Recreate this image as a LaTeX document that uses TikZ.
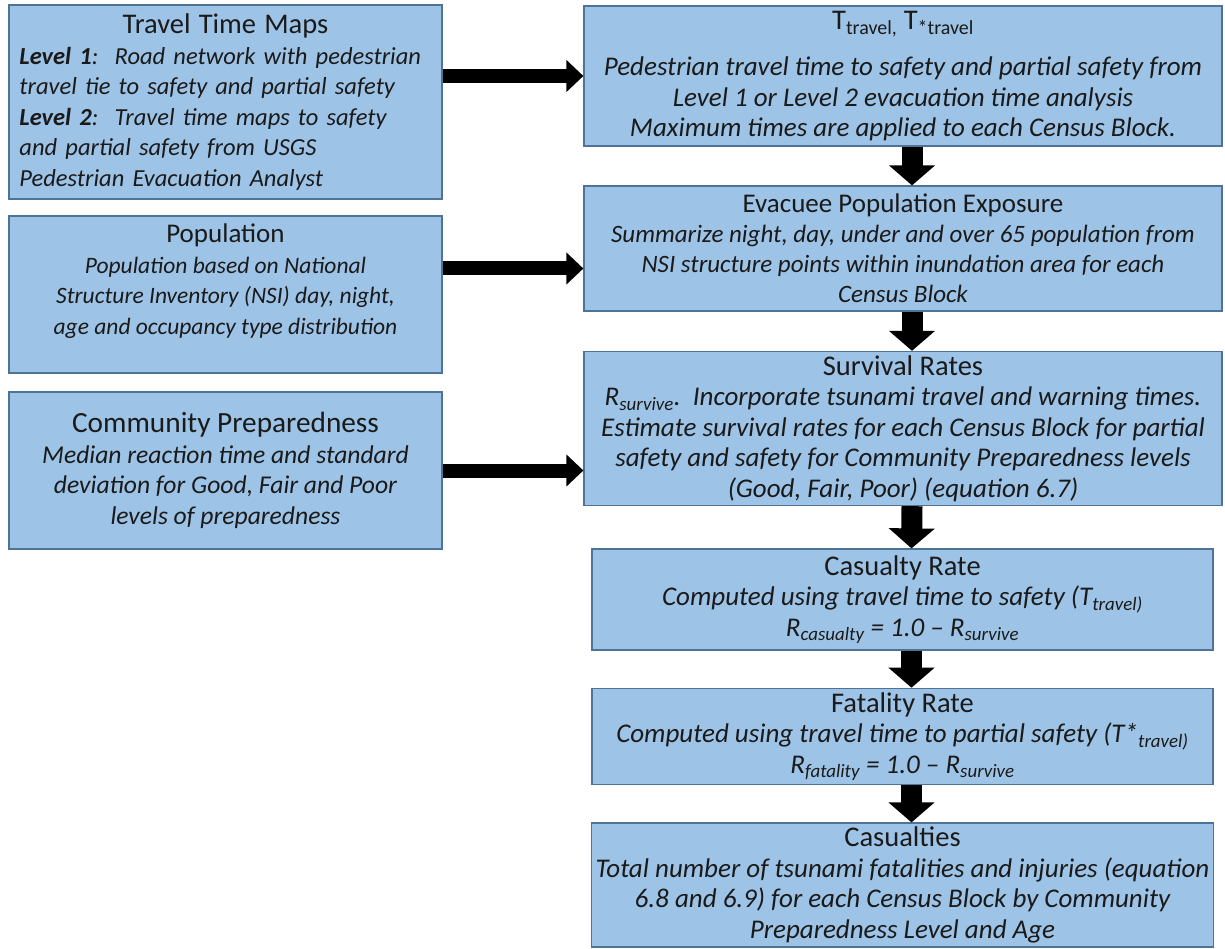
\documentclass[tikz,border=0pt]{standalone}
\usepackage{fontspec}
\setmainfont{Carlito}
\usetikzlibrary{arrows.meta}
\definecolor{boxfill}{HTML}{9DC3E6}
\definecolor{boxline}{HTML}{4F7396}
\definecolor{ink}{HTML}{1A1A1A}
\newcommand{\boxhead}[2][28.5]{{\fontsize{#1}{30.5}\selectfont\upshape #2}}

\begin{document}
\begin{tikzpicture}[x=1pt, y=-1pt,
    stepbox/.style={draw=boxline, fill=boxfill, line width=1.2pt, align=center, text=ink,
      inner sep=4pt, font=\fontsize{27}{30.5}\selectfont\itshape},
    inbox/.style={stepbox, minimum width=433pt, font=\fontsize{25}{30.5}\selectfont\itshape},
    upbox/.style={stepbox, minimum width=638pt},
    lowbox/.style={stepbox, minimum width=621pt},
    feed/.style={line width=14pt, -{Triangle[width=31pt, length=17pt]}},
    flow/.style={line width=21pt, -{Triangle[width=45pt, length=20pt]}}]

    \path[fill=white, use as bounding box] (0,0) rectangle (1225,949);

    % === inputs, left column ===
    \node[inbox, minimum height=194pt, align=left, text width=412pt, inner xsep=10.5pt,
      font=\fontsize{24.5}{30.5}\selectfont\itshape] (maps) at (225.5,102)
      {{\centering\boxhead{Travel Time Maps}\par}%
       \textbf{Level 1}:\ \ Road network with pedestrian\\
       travel tie to safety and partial safety\\
       \textbf{Level 2}:\ \ Travel time maps to safety\\
       and partial safety from USGS\\
       Pedestrian Evacuation Analyst};
    \node[inbox, minimum height=157pt, font=\fontsize{23.5}{30.5}\selectfont\itshape] (pop) at (225.5,294.5)
      {\boxhead[27]{Population}\\
       Population based on National\\
       Structure Inventory (NSI) day, night,\\
       age and occupancy type distribution\\ ~};
    \node[inbox, minimum height=157pt, font=\fontsize{25.6}{30.5}\selectfont\itshape] (prep) at (225.5,470.5)
      {\boxhead[29.3]{Community Preparedness}\\
       Median reaction time and standard\\
       deviation for Good, Fair and Poor\\
       levels of preparedness};

    % === analysis steps, right column ===
    \node[upbox, minimum height=140pt] (ttravel) at (903,76)
      {\boxhead{T\textsubscript{travel,} T\textsubscript{*travel}}\\[16pt]
       Pedestrian travel time to safety and partial safety from\\
       Level 1 or Level 2 evacuation time analysis\\
       Maximum times are applied to each Census Block.};
    \node[upbox, minimum height=125pt, font=\fontsize{25}{30}\selectfont\itshape] (expo) at (903,248.5)
      {\boxhead[27]{Evacuee Population Exposure}\\
       Summarize night, day, under and over 65 population from\\
       NSI structure points within inundation area for each\\
       Census Block};
    \node[upbox, minimum height=153pt] (surv) at (903,428.5)
      {\boxhead{Survival Rates}\\
       R\textsubscript{survive}.\ \ Incorporate tsunami travel and warning times.\\
       Estimate survival rates for each Census Block for partial\\
       safety and safety for Community Preparedness levels\\
       (Good, Fair, Poor) (equation 6.7)};
    \node[lowbox, minimum height=101pt] (casrate) at (902.5,599.5)
      {\boxhead{Casualty Rate}\\
       Computed using travel time to safety (T\textsubscript{travel)}\\
       R\textsubscript{casualty} = 1.0 -- R\textsubscript{survive}};
    \node[lowbox, minimum height=93pt] (fatrate) at (902.5,736.5)
      {\boxhead{Fatality Rate}\\
       Computed using travel time to partial safety (T*\textsubscript{travel)}\\
       R\textsubscript{fatality} = 1.0 -- R\textsubscript{survive}};
    \node[lowbox, minimum height=124pt] (cas) at (902.5,885)
      {\boxhead{Casualties}\\
       Total number of tsunami fatalities and injuries (equation\\
       6.8 and 6.9) for each Census Block by Community\\
       Preparedness Level and Age};

    % === inputs feeding the steps ===
    \draw[feed] (maps.east |- ttravel) -- (ttravel.west);
    \draw[feed] ([yshift=-20pt]expo.west -| pop.east) -- ([yshift=-20pt]expo.west);
    \draw[feed] (prep.east) -- (prep.east -| surv.west);

    % === step chain ===
    \draw[flow] ([xshift=9pt]ttravel.south) -- ([xshift=9pt]expo.north);
    \draw[flow] ([xshift=9pt]expo.south) -- ([xshift=9pt]surv.north);
    \draw[flow] ([xshift=9pt]surv.south) -- ([xshift=9pt]casrate.north);
    \draw[flow] ([xshift=9pt]casrate.south) -- ([xshift=9pt]fatrate.north);
    \draw[flow] ([xshift=9pt]fatrate.south) -- ([xshift=9pt]cas.north);

\end{tikzpicture}
\end{document}
